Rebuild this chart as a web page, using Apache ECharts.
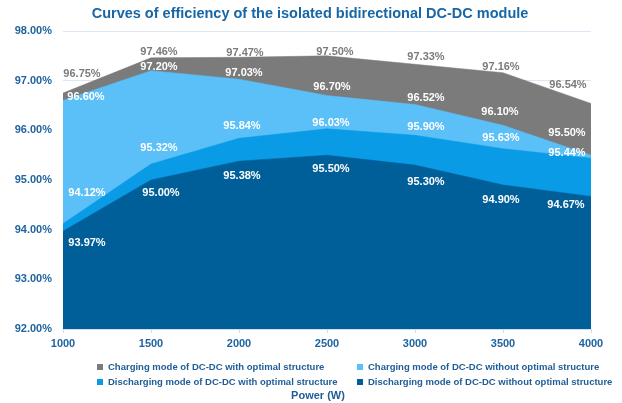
<!DOCTYPE html>
<html>
<head>
<meta charset="utf-8">
<script src="https://cdn.jsdelivr.net/npm/echarts@6/dist/echarts.min.js"></script>
<style>
  html, body { margin: 0; padding: 0; background: #fff; }
  #chart { width: 622px; height: 403px; }
</style>
</head>
<body>
<div id="chart"></div>
<script>
// Efficiency of the isolated bidirectional DC-DC module vs. power
const powers = [1000, 1500, 2000, 2500, 3000, 3500, 4000];

const chargeOptimal     = [96.75, 97.46, 97.47, 97.50, 97.33, 97.16, 96.54];
const chargePlain       = [96.60, 97.20, 97.03, 96.70, 96.52, 96.10, 95.50];
const dischargeOptimal  = [94.12, 95.32, 95.84, 96.03, 95.90, 95.63, 95.44];
const dischargePlain    = [93.97, 95.00, 95.38, 95.50, 95.30, 94.90, 94.67];

const seriesNames = [
  'Charging mode of DC-DC with optimal structure',
  'Charging mode of DC-DC without optimal structure',
  'Discharging mode of DC-DC with optimal structure',
  'Discharging mode of DC-DC without optimal structure'
];

const yTicks = [92, 93, 94, 95, 96, 97, 98];

// label nudges (px) so the value tags don't collide
const labelNudge = [
  [[19,-19],[8,-6],[6,-4],[8,-4],[11,-7],[-2,-6],[-23,-19]],
  [[23,-4],[8,-4],[5,-6],[5,-9],[11,-7],[-3,-13],[-24,-22]],
  [[24,-31],[8,-16],[3,-12],[4,-6],[11,-8],[-2,-11],[-24,-5]],
  [[24,12],[10,13],[3,15],[4,14],[11,17],[-2,15],[-25,9]]
];

const colors = ['#7b7b7b', '#5bbff8', '#0a9be6', '#005f99'];
const labelColors = ['#7b7b7b', '#ffffff', '#ffffff', '#ffffff'];
const FONT = '"Liberation Sans", Arial, sans-serif';

const values = [chargeOptimal, chargePlain, dischargeOptimal, dischargePlain];

function buildSeries(i) {
  return {
    name: seriesNames[i],
    type: 'line',
    symbol: 'circle',
    symbolSize: 0.1,
    showSymbol: true,
    clip: false,
    lineStyle: { width: 0.5, color: colors[i] },
    itemStyle: { color: colors[i] },
    areaStyle: { color: colors[i], opacity: 1, origin: 'start' },
    z: 2 + i,
    data: values[i].map((v, k) => ({
      value: [powers[k], v],
      label: { offset: labelNudge[i][k] }
    })),
    label: {
      show: true,
      position: 'inside',
      color: labelColors[i],
      fontFamily: FONT,
      fontWeight: 'bold',
      fontSize: 11,
      formatter: p => p.value[1].toFixed(2) + '%'
    },
    emphasis: { disabled: true },
    animation: false
  };
}

const legendText = { color: '#1f5d96', fontFamily: FONT, fontWeight: 'bold', fontSize: 9.5 };

const chart = echarts.init(document.getElementById('chart'), null, { renderer: 'canvas' });
chart.setOption({
  animation: false,
  backgroundColor: '#ffffff',
  title: [
    {
      text: 'Curves of efficiency of the isolated bidirectional DC-DC module',
      left: 310, top: 6, padding: 0, textAlign: 'center',
      textStyle: { color: '#1766a6', fontFamily: FONT, fontWeight: 'bold', fontSize: 14.5 }
    },
    {
      text: 'Power (W)',
      left: 318, top: 390, padding: 0, textAlign: 'center',
      textStyle: { color: '#1f5d96', fontFamily: FONT, fontWeight: 'bold', fontSize: 11 }
    }
  ],
  grid: { left: 63, right: 31, top: 31, bottom: 74 },
  legend: [
    {
      data: [seriesNames[0], seriesNames[2]],
      orient: 'vertical', left: 92, top: 357, itemGap: 5,
      itemWidth: 6, itemHeight: 6, itemStyle: { borderWidth: 0 }, icon: 'rect', selectedMode: false,
      textStyle: legendText
    },
    {
      data: [seriesNames[1], seriesNames[3]],
      orient: 'vertical', left: 352, top: 357, itemGap: 5,
      itemWidth: 6, itemHeight: 6, itemStyle: { borderWidth: 0 }, icon: 'rect', selectedMode: false,
      textStyle: legendText
    }
  ],
  xAxis: {
    type: 'value', min: 1000, max: 4000, interval: 500,
    axisLine: { show: true, lineStyle: { color: '#cfdced', width: 1 } },
    axisTick: { show: true, length: 4, lineStyle: { color: '#cfdced' } },
    splitLine: { show: false },
    axisLabel: {
      color: '#1f64a0', fontFamily: FONT, fontWeight: 'bold', fontSize: 11, margin: 9,
      formatter: v => String(v)
    }
  },
  yAxis: {
    type: 'value', min: yTicks[0], max: yTicks[yTicks.length - 1], interval: 1,
    axisLine: { show: false },
    axisTick: { show: false },
    splitLine: { show: true, lineStyle: { color: '#dde7f3', width: 1 } },
    axisLabel: {
      color: '#1f64a0', fontFamily: FONT, fontWeight: 'bold', fontSize: 11, margin: 11,
      formatter: v => v.toFixed(2) + '%'
    }
  },
  series: [0, 1, 2, 3].map(buildSeries)
});
</script>
</body>
</html>
